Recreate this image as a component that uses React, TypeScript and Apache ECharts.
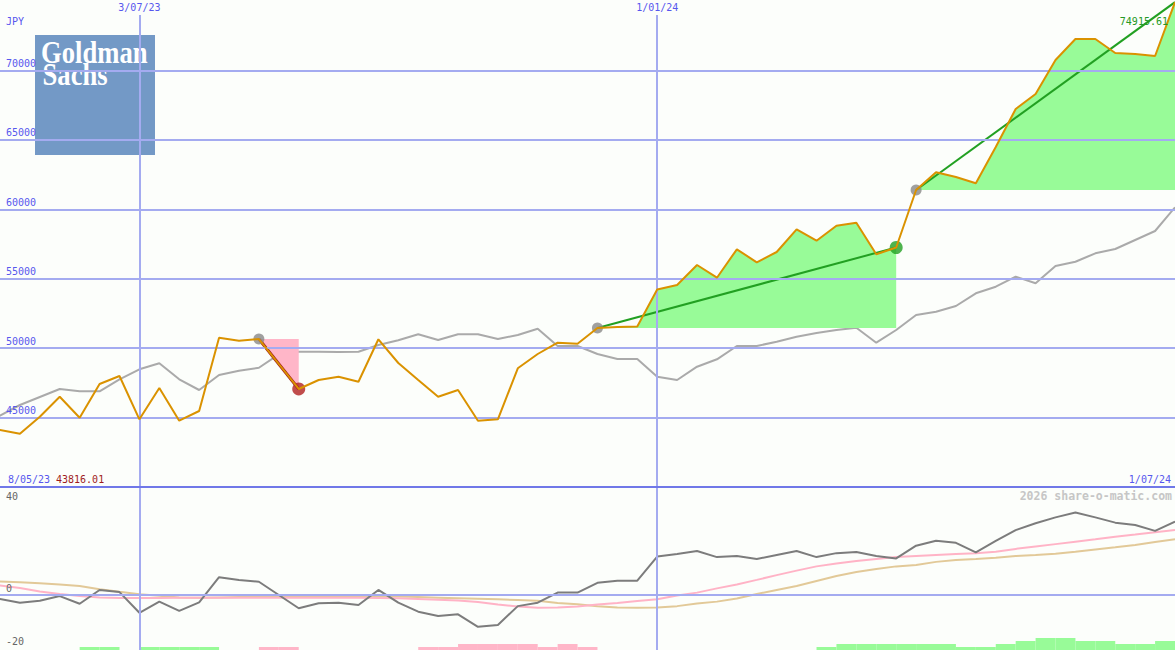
import React, { useEffect, useRef } from "react";
import * as echarts from "echarts";

// ---------- data ----------
const weekDates = [
  "2023-05-08", "2023-05-15", "2023-05-22", "2023-05-29", "2023-06-05", "2023-06-12", "2023-06-19", "2023-06-26",
  "2023-07-03", "2023-07-10", "2023-07-17", "2023-07-24", "2023-07-31", "2023-08-07", "2023-08-14", "2023-08-21",
  "2023-08-28", "2023-09-04", "2023-09-11", "2023-09-18", "2023-09-25", "2023-10-02", "2023-10-09", "2023-10-16",
  "2023-10-23", "2023-10-30", "2023-11-06", "2023-11-13", "2023-11-20", "2023-11-27", "2023-12-04", "2023-12-11",
  "2023-12-18", "2023-12-25", "2024-01-01", "2024-01-08", "2024-01-15", "2024-01-22", "2024-01-29", "2024-02-05",
  "2024-02-12", "2024-02-19", "2024-02-26", "2024-03-04", "2024-03-11", "2024-03-18", "2024-03-25", "2024-04-01",
  "2024-04-08", "2024-04-15", "2024-04-22", "2024-04-29", "2024-05-06", "2024-05-13", "2024-05-20", "2024-05-27",
  "2024-06-03", "2024-06-10", "2024-06-17", "2024-06-24", "2024-07-01",
];

const closePrice = [
  43816.01, 44105, 43838, 45063, 46503, 44991, 47418, 47994,
  44875, 47130, 44775, 45473, 50752, 50536, 50658, 48858,
  47058, 47706, 47943, 47583, 50637, 48930, 47706, 46503,
  46986, 44775, 44875, 48548, 49578, 50392, 50320, 51451,
  51523, 51559, 54223, 54547, 55988, 55073, 57118, 56182,
  56924, 58558, 57738, 58818, 59034, 56758, 57248, 61389,
  62664, 62325, 61871, 64485, 67222, 68302, 70751, 72263,
  72263, 71255, 71183, 71039, 74915.61,
];

const benchmark = [
  44465, 45135, 45905, 46481, 47058, 46892, 46892, 47756,
  48476, 48908, 47756, 46986, 48066, 48375, 48591, 49556,
  49744, 49744, 49722, 49744, 50226, 50565, 50997, 50586,
  50997, 50997, 50658, 50946, 51400, 50154, 50154, 49578,
  49218, 49218, 47943, 47706, 48664, 49196, 50154, 50154,
  50464, 50824, 51090, 51307, 51472, 50392, 51307, 52387,
  52624, 53035, 53950, 54425, 55145, 54670, 55916, 56225,
  56830, 57140, 57788, 58436, 60143,
];

const momentum = [
  -0.5, -1.5, -2.9, -2.2, -0.4, -3.3, 1.9, 1.1,
  -6.7, -2.5, -6.0, -2.8, 6.7, 5.7, 5.0, 0,
  -5.0, -3.1, -2.9, -3.8, 1.9, -2.9, -6.3, -7.9,
  -7.3, -12.0, -11.3, -4.2, -2.9, 0.9, 0.9, 4.6,
  5.4, 5.4, 14.5, 15.5, 16.6, 14.3, 14.7, 13.6,
  15.1, 16.6, 14.3, 15.8, 16.2, 14.7, 13.8, 18.6,
  20.5, 19.7, 16.1, 20.4, 24.5, 27.1, 29.3, 31.1,
  29.3, 27.3, 26.4, 24.2, 27.7,
];

const fastAverage = [
  4.5, 3.6, 2.6, 1.3, 0.4, -0.4, -0.9, -1.1,
  -1.1, -1.1, -1.0, -1.0, -1.0, -1.0, -1.0, -1.0,
  -1.0, -1.0, -1.0, -1.0, -1.1, -1.2, -1.5, -1.8,
  -2.1, -2.6, -3.6, -4.3, -4.8, -4.7, -4.3, -3.6,
  -3.0, -2.3, -1.6, -0.2, 0.9, 2.5, 4.0, 5.7,
  7.5, 9.2, 10.8, 11.9, 12.8, 13.6, 14.3, 14.7,
  15.1, 15.5, 15.8, 16.3, 17.4, 18.3, 19.2, 20.1,
  21.0, 22.0, 22.8, 23.7, 24.5,
];

const slowAverage = [
  5.4, 5.1, 4.8, 4.4, 4.0, 3.4, 2.2, 1.2,
  0.3, -0.3, -0.9, -1.0, -0.9, -0.8, -0.8, -0.7,
  -0.7, -0.7, -0.7, -0.6, -0.6, -0.6, -0.8, -1.0,
  -1.2, -1.4, -1.6, -1.9, -2.2, -3.0, -3.5, -4.2,
  -4.7, -4.8, -4.7, -4.2, -3.2, -2.5, -1.3, 0.4,
  1.9, 3.4, 5.3, 7.2, 8.7, 9.8, 10.8, 11.3,
  12.5, 13.2, 13.6, 14.1, 14.7, 15.1, 15.6, 16.3,
  17.2, 18.0, 18.9, 20.0, 21.0,
];

// one value per week, covering the week that starts at the same index in weekDates
const weeklyBars = [
  0, 0, 0, 0, 0, 1, 1, 0,
  1, 1, 1, 1, 0, 0, -1, -1,
  0, 0, 0, 0, 0, 0, -1, -1,
  -2, -2, -2, -2, -1, -2, -1, 0,
  0, 0, 0, 0, 0, 0, 0, 0,
  0, 0, 1, 2, 2, 2, 2, 2,
  2, 1, 1, 2, 3, 4, 4, 3,
  3, 2, 2, 3, 0,
];

const priceTicks = [45000, 50000, 55000, 60000, 65000, 70000];
const priceFloor = 40000;
const priceCeil = 75000;
const momentumTicks = [40, 0, -20];
const dateTicks = ["2023-07-03", "2024-01-01"];
const viewStart = "2023-05-15";
const viewEnd = "2024-07-01";

const signals = [
  { start: "2023-08-14", end: "2023-08-28", open: false },
  { start: "2023-12-11", end: "2024-03-25", open: false },
  { start: "2024-04-01", end: "2024-07-01", open: true },
];

// ---------- styling ----------
const BG = "#fcfefb";
const GRID = "#a4abf0";
const SEP = "#7078e8";
const BLUE = "#5757ee";
const ORANGE = "#da9200";
const GREY = "#aaaaaa";
const GAIN_FILL = "#98fb98";
const LOSS_FILL = "#ffb6c8";
const GAIN_LINE = "#22a022";
const LOSS_LINE = "#a01818";
const MONO = '"DejaVu Sans Mono", monospace';

const ts = (s: string) => new Date(s + "T00:00:00").getTime();
const fmtDate = (s: string) => {
  const [y, m, d] = s.split("-");
  return `${parseInt(d, 10)}/${m}/${y.slice(2)}`;
};

export default function App() {
  const ref = useRef<HTMLDivElement>(null);

  useEffect(() => {
    if (!ref.current) return;
    const chart = echarts.init(ref.current, undefined, { renderer: "svg" });

    const times = weekDates.map(ts);
    const pricePts = times.map((t, i) => [t, closePrice[i]]);
    const benchPts = times.map((t, i) => [t, benchmark[i]]);

    const signalSeries: any[] = [];
    signals.forEach((sg) => {
      const si = weekDates.indexOf(sg.start);
      const ei = weekDates.indexOf(sg.end);
      const base = closePrice[si];
      const last = closePrice[ei];
      const gain = last >= base;
      const pts = pricePts.slice(si, ei + 1);
      const tS = times[si];
      const tE = times[ei];
      signalSeries.push({
        type: "custom",
        xAxisIndex: 0,
        yAxisIndex: 0,
        z: 3,
        silent: true,
        data: pts,
        renderItem: (params: any, api: any) => {
          if (params.dataIndex !== 0) return null;
          const poly = pts.map((p) => api.coord(p));
          poly.push(api.coord([tE, base]));
          poly.push(api.coord([tS, base]));
          return {
            type: "polygon",
            shape: { points: poly },
            style: { fill: gain ? GAIN_FILL : LOSS_FILL },
          };
        },
      });
      signalSeries.push({
        type: "line",
        xAxisIndex: 0,
        yAxisIndex: 0,
        z: 4,
        silent: true,
        symbol: "none",
        data: [
          [tS, base],
          [tE, last],
        ],
        lineStyle: { color: gain ? GAIN_LINE : LOSS_LINE, width: gain ? 2 : 3 },
      });
      const markers: any[] = [{ value: [tS, base], itemStyle: { color: "#888888" }, symbolSize: 11 }];
      if (!sg.open) {
        markers.push({
          value: [tE, last],
          itemStyle: { color: gain ? GAIN_LINE : "#b02020" },
          symbolSize: 13,
        });
      }
      signalSeries.push({
        type: "scatter",
        xAxisIndex: 0,
        yAxisIndex: 0,
        z: 5,
        silent: true,
        symbol: "circle",
        data: markers,
      });
    });

    const barItems = weeklyBars
      .map((v, i) => (v !== 0 && i + 1 < times.length ? [times[i], times[i + 1], v] : null))
      .filter((x) => x !== null);

    const xMin = ts(viewStart);
    const xMax = ts(viewEnd);
    const hidden = { color: "rgba(0,0,0,0)", width: 0 };

    const option: any = {
      animation: false,
      backgroundColor: BG,
      grid: [
        { left: 0, right: 0, top: 1, height: 486 },
        { left: 0, right: 0, top: 489, height: 159 },
        { left: 0, right: 0, top: 638, height: 12 },
        { left: 0, right: 0, top: 15, bottom: 0 },
      ],
      xAxis: [0, 1, 2, 3].map((g) => ({
        type: "time",
        gridIndex: g,
        min: xMin,
        max: xMax,
        show: false,
      })),
      yAxis: [
        { type: "value", gridIndex: 0, min: priceFloor, max: priceCeil, show: false },
        { type: "value", gridIndex: 1, min: -20, max: 40, show: false },
        { type: "value", gridIndex: 2, min: 0, max: 4, show: false },
        { type: "value", gridIndex: 3, min: 0, max: 1, show: false },
      ],
      series: [
        // vertical date lines spanning both panels
        {
          type: "line",
          xAxisIndex: 3,
          yAxisIndex: 3,
          z: 1,
          silent: true,
          symbol: "none",
          data: dateTicks.map((d) => [ts(d), 0]),
          lineStyle: { opacity: 0 },
          markLine: {
            silent: true,
            animation: false,
            symbol: ["none", "none"],
            lineStyle: { color: GRID, width: 2, type: "solid" },
            label: {
              show: true,
              position: "end",
              distance: 3,
              color: BLUE,
              fontFamily: MONO,
              fontSize: 10,
            },
            data: dateTicks.map((d) => ({ xAxis: ts(d), label: { formatter: fmtDate(d) } })),
          },
        },
        // benchmark (grey) with price grid lines
        {
          type: "line",
          xAxisIndex: 0,
          yAxisIndex: 0,
          z: 2,
          silent: true,
          symbol: "none",
          data: benchPts,
          lineStyle: { color: GREY, width: 2 },
          markLine: {
            silent: true,
            animation: false,
            symbol: ["none", "none"],
            lineStyle: { color: GRID, width: 2, type: "solid" },
            label: {
              show: true,
              position: "insideStartTop",
              distance: [6, 2],
              color: BLUE,
              fontFamily: MONO,
              fontSize: 10,
            },
            data: [
              ...priceTicks.map((v) => ({ yAxis: v, label: { formatter: String(v) } })),
              { yAxis: priceFloor, lineStyle: { color: SEP, width: 2 }, label: { show: false } },
            ],
          },
        },
        ...signalSeries,
        // price
        {
          type: "line",
          xAxisIndex: 0,
          yAxisIndex: 0,
          z: 6,
          silent: true,
          symbol: "none",
          data: pricePts,
          lineStyle: { color: ORANGE, width: 2 },
        },
        // lower panel
        {
          type: "line",
          xAxisIndex: 1,
          yAxisIndex: 1,
          z: 2,
          silent: true,
          symbol: "none",
          data: times.map((t, i) => [t, slowAverage[i]]),
          lineStyle: { color: "#e2c998", width: 2 },
          markLine: {
            silent: true,
            animation: false,
            symbol: ["none", "none"],
            label: {
              show: true,
              color: "#666666",
              fontFamily: MONO,
              fontSize: 10,
              distance: [6, 2],
            },
            data: momentumTicks.map((v) => ({
              yAxis: v,
              lineStyle: v === 0 ? { color: GRID, width: 2, type: "solid" } : hidden,
              label: {
                show: true,
                color: "#666666",
                formatter: String(v),
                position: v === 40 ? "insideStartBottom" : "insideStartTop",
              },
            })),
          },
        },
        {
          type: "line",
          xAxisIndex: 1,
          yAxisIndex: 1,
          z: 3,
          silent: true,
          symbol: "none",
          data: times.map((t, i) => [t, fastAverage[i]]),
          lineStyle: { color: "#ffb3c6", width: 2 },
        },
        {
          type: "line",
          xAxisIndex: 1,
          yAxisIndex: 1,
          z: 4,
          silent: true,
          symbol: "none",
          data: times.map((t, i) => [t, momentum[i]]),
          lineStyle: { color: "#7c7c7c", width: 2 },
        },
        // weekly bars
        {
          type: "custom",
          xAxisIndex: 2,
          yAxisIndex: 2,
          z: 2,
          silent: true,
          data: barItems,
          encode: { x: [0, 1], y: 2 },
          renderItem: (params: any, api: any) => {
            const v = api.value(2);
            const p0 = api.coord([api.value(0), 0]);
            const p1 = api.coord([api.value(1), Math.abs(v)]);
            return {
              type: "rect",
              shape: { x: p0[0], y: p1[1], width: p1[0] - p0[0], height: p0[1] - p1[1] },
              style: { fill: v > 0 ? GAIN_FILL : LOSS_FILL },
            };
          },
        },
      ],
      graphic: [
        {
          type: "text",
          x: 6,
          y: 21,
          z: 50,
          style: { text: "JPY", fill: BLUE, font: `10px ${MONO}`, verticalAlign: "middle" },
        },
        {
          type: "text",
          x: 1168,
          y: 21,
          z: 50,
          style: {
            text: closePrice[closePrice.length - 1].toFixed(2),
            fill: "#259925",
            font: `10px ${MONO}`,
            align: "right",
            verticalAlign: "middle",
          },
        },
        {
          type: "text",
          x: 8,
          y: 479,
          z: 50,
          style: { text: fmtDate(weekDates[0]), fill: BLUE, font: `10px ${MONO}`, verticalAlign: "middle" },
        },
        {
          type: "text",
          x: 56,
          y: 479,
          z: 50,
          style: {
            text: closePrice[0].toFixed(2),
            fill: "#a01c1c",
            font: `10px ${MONO}`,
            verticalAlign: "middle",
          },
        },
        {
          type: "text",
          x: 1171,
          y: 479,
          z: 50,
          style: {
            text: fmtDate(weekDates[weekDates.length - 1]),
            fill: BLUE,
            font: `10px ${MONO}`,
            align: "right",
            verticalAlign: "middle",
          },
        },
        {
          type: "text",
          x: 1172,
          y: 496,
          z: 50,
          style: {
            text: "2026 share-o-matic.com",
            fill: "#c6c6c6",
            font: `bold 11.5px ${MONO}`,
            align: "right",
            verticalAlign: "middle",
          },
        },
        {
          type: "group",
          z: 60,
          children: [
            { type: "rect", shape: { x: 35, y: 35, width: 120, height: 120 }, style: { fill: "#7399c6" } },
            {
              type: "text",
              x: 41,
              y: 52.5,
              scaleX: 0.86,
              style: {
                text: "Goldman",
                fill: "#ffffff",
                font: 'bold 31px "Liberation Serif", serif',
                verticalAlign: "middle",
              },
            },
            {
              type: "text",
              x: 42.5,
              y: 74.5,
              scaleX: 0.86,
              style: {
                text: "Sachs",
                fill: "#ffffff",
                font: 'bold 31px "Liberation Serif", serif',
                verticalAlign: "middle",
              },
            },
          ],
        },
      ],
    };

    chart.setOption(option);
    return () => chart.dispose();
  }, []);

  return (
    <div
      ref={ref}
      style={{ position: "absolute", left: 0, top: 0, width: 1175, height: 650 }}
    />
  );
}
